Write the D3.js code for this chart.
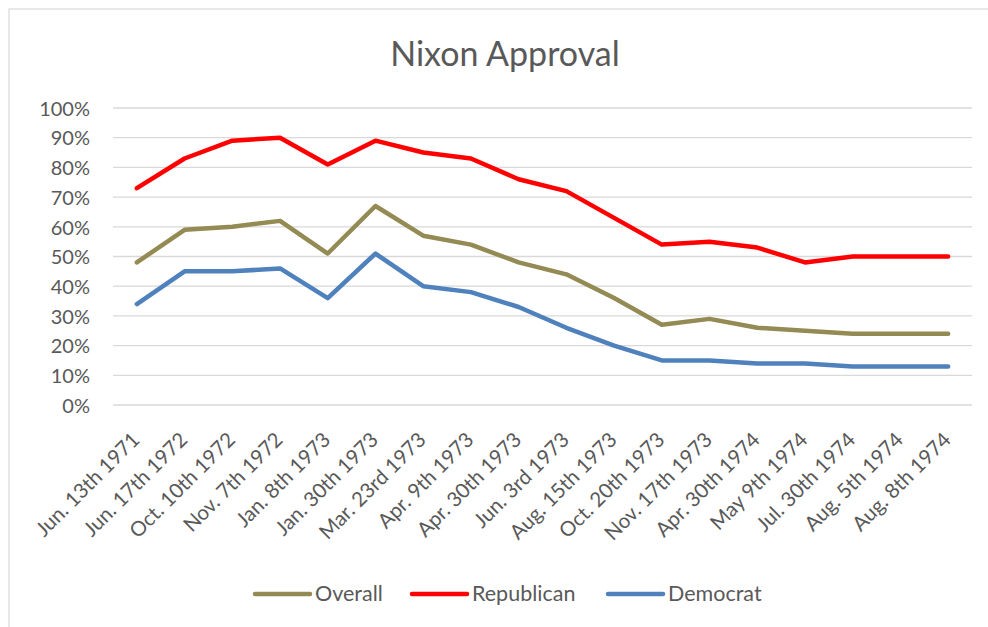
<!DOCTYPE html>
<html><head><meta charset="utf-8">
<script src="https://cdn.jsdelivr.net/npm/d3@7"></script>
<style>body{margin:0;background:#fff}svg{display:block}text{font-family:Lato,"Open Sans",sans-serif;fill:#595959}</style>
</head><body><svg id="c" width="988" height="627"></svg>
<script>
const categories = ["Jun. 13th 1971","Jun. 17th 1972","Oct. 10th 1972","Nov. 7th 1972","Jan. 8th 1973","Jan. 30th 1973","Mar. 23rd 1973","Apr. 9th 1973","Apr. 30th 1973","Jun. 3rd 1973","Aug. 15th 1973","Oct. 20th 1973","Nov. 17th 1973","Apr. 30th 1974","May 9th 1974","Jul. 30th 1974","Aug. 5th 1974","Aug. 8th 1974"];
const overall = [48,59,60,62,51,67,57,54,48,44,36,27,29,26,25,24,24,24];
const republican = [73,83,89,90,81,89,85,83,76,72,63,54,55,53,48,50,50,50];
const democrat = [34,45,45,46,36,51,40,38,33,26,20,15,15,14,14,13,13,13];
const yTicks = [0,10,20,30,40,50,60,70,80,90,100];
const seriesNames = ["Overall","Republican","Democrat"];
const seriesColors = ["#948A54","#FF0000","#4F81BD"];
const seriesData = [overall, republican, democrat];

const svg = d3.select("#c");
svg.append("rect").attr("x",9).attr("y",9).attr("width",1000).attr("height",640)
  .attr("fill","#fff").attr("stroke","#d9d9d9").attr("stroke-width",1.2);

const x = d3.scaleBand().domain(categories).range([113,972]);
const y = d3.scaleLinear().domain([0,100]).range([405,108]);

svg.append("text").attr("x",505).attr("y",66).attr("text-anchor","middle")
  .style("font-size","34px").text("Nixon Approval");

// gridlines
svg.append("g").selectAll("line").data(yTicks).join("line")
  .attr("x1",113).attr("x2",972).attr("y1",d=>y(d)).attr("y2",d=>y(d))
  .attr("stroke","#d9d9d9").attr("stroke-width",1.3);

// y labels
const yAxis = d3.axisLeft(y).tickValues(yTicks).tickFormat(d=>d+"%").tickSize(0).tickPadding(0);
const gy = svg.append("g").attr("transform","translate(90,0)").call(yAxis);
gy.select(".domain").remove();
gy.selectAll("text").style("font-size","20px").attr("fill","#595959").attr("dy","0.36em");

// x labels
const xAxis = d3.axisBottom(x).tickSize(0).tickPadding(0);
const gx = svg.append("g").attr("transform","translate(0,405)").call(xAxis);
gx.select(".domain").remove();
gx.selectAll("text").style("font-size","20.5px").attr("fill","#595959")
  .attr("text-anchor","end").attr("dy",null).attr("y",0)
  .attr("transform","translate(4,36) rotate(-45)");

// lines
const line = d3.line().x((d,i)=>x(categories[i])+x.bandwidth()/2).y(d=>y(d));
seriesData.forEach((s,k)=>{
  svg.append("path").datum(s).attr("d",line).attr("fill","none")
    .attr("stroke",seriesColors[k]).attr("stroke-width",4.5)
    .attr("stroke-linejoin","round").attr("stroke-linecap","round");
});

// legend
const legX = [255,412,608];
const lg = svg.append("g");
seriesNames.forEach((n,k)=>{
  lg.append("line").attr("x1",legX[k]).attr("x2",legX[k]+55).attr("y1",594).attr("y2",594)
    .attr("stroke",seriesColors[k]).attr("stroke-width",4.5).attr("stroke-linecap","round");
  lg.append("text").attr("x",legX[k]+60).attr("y",601).style("font-size","21.5px").text(n);
});
</script></body></html>
